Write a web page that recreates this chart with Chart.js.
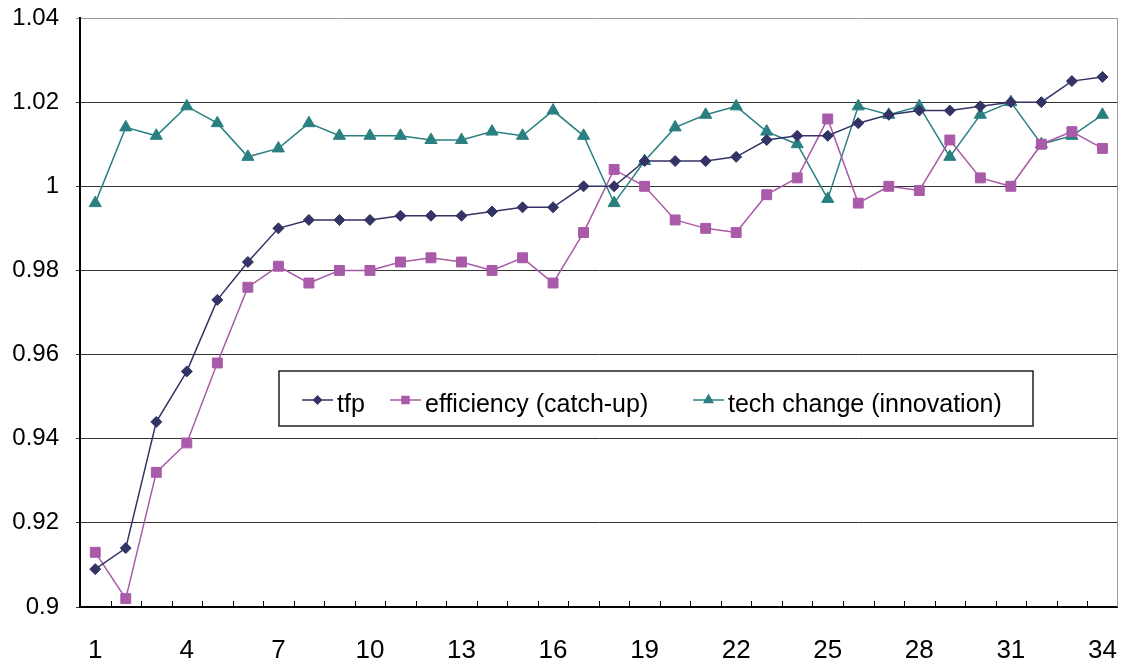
<!DOCTYPE html>
<html>
<head>
<meta charset="utf-8">
<title>tfp / efficiency / tech change</title>
<script src="https://cdn.jsdelivr.net/npm/chart.js@4.4.1/dist/chart.umd.min.js"></script>
<style>
  html, body { margin: 0; padding: 0; background: #fff; }
</style>
</head>
<body>
<canvas id="chart" width="1137" height="666"></canvas>
<script>
// Data
const periods = [1, 2, 3, 4, 5, 6, 7, 8, 9, 10, 11, 12, 13, 14, 15, 16, 17,
  18, 19, 20, 21, 22, 23, 24, 25, 26, 27, 28, 29, 30, 31, 32, 33, 34];

const tfp = [0.909, 0.914, 0.944, 0.956, 0.973, 0.982, 0.990, 0.992, 0.992, 0.992,
  0.993, 0.993, 0.993, 0.994, 0.995, 0.995, 1.000, 1.000, 1.006, 1.006,
  1.006, 1.007, 1.011, 1.012, 1.012, 1.015, 1.017, 1.018, 1.018, 1.019,
  1.020, 1.020, 1.025, 1.026];

const efficiency = [0.913, 0.902, 0.932, 0.939, 0.958, 0.976, 0.981, 0.977, 0.980, 0.980,
  0.982, 0.983, 0.982, 0.980, 0.983, 0.977, 0.989, 1.004, 1.000, 0.992,
  0.990, 0.989, 0.998, 1.002, 1.016, 0.996, 1.000, 0.999, 1.011, 1.002,
  1.000, 1.010, 1.013, 1.009];

const techChange = [0.996, 1.014, 1.012, 1.019, 1.015, 1.007, 1.009, 1.015, 1.012, 1.012,
  1.012, 1.011, 1.011, 1.013, 1.012, 1.018, 1.012, 0.996, 1.006, 1.014,
  1.017, 1.019, 1.013, 1.010, 0.997, 1.019, 1.017, 1.019, 1.007, 1.017,
  1.020, 1.010, 1.012, 1.017];

const seriesNames = ["tfp", "efficiency (catch-up)", "tech change (innovation)"];
const yTicks = [0.9, 0.92, 0.94, 0.96, 0.98, 1, 1.02, 1.04];
const xLabelEvery = 3;

// inward tick marks on the bottom axis + grey right border
const frameExtras = {
  id: "frameExtras",
  afterDraw(chart) {
    const ctx = chart.ctx;
    const area = chart.chartArea;
    const n = periods.length;
    const step = (area.right - area.left) / n;
    ctx.save();
    ctx.strokeStyle = "#000";
    ctx.lineWidth = 1;
    ctx.beginPath();
    for (let i = 1; i < n; i++) {
      const x = Math.round(area.left + i * step) + 0.5;
      ctx.moveTo(x, area.bottom);
      ctx.lineTo(x, area.bottom - 6);
    }
    ctx.stroke();
    ctx.strokeStyle = "#999";
    ctx.beginPath();
    ctx.moveTo(Math.round(area.right) - 0.5, area.top);
    ctx.lineTo(Math.round(area.right) - 0.5, area.bottom);
    ctx.stroke();
    ctx.restore();
  }
};

// legend drawn as a boxed row inside the plot
const boxLegend = {
  id: "boxLegend",
  afterDraw(chart) {
    const ctx = chart.ctx;
    const box = { left: 279, top: 371, right: 1033, bottom: 426 };
    const itemX = [302, 390, 693];
    const lineLen = 31;
    const lineY = 400;
    ctx.save();
    ctx.fillStyle = "#fff";
    ctx.fillRect(box.left, box.top, box.right - box.left, box.bottom - box.top);
    ctx.strokeStyle = "#222";
    ctx.lineWidth = 1.5;
    ctx.strokeRect(box.left, box.top, box.right - box.left, box.bottom - box.top);

    chart.data.datasets.forEach((ds, i) => {
      const x = itemX[i];
      ctx.strokeStyle = ds.borderColor;
      ctx.lineWidth = 1.5;
      ctx.beginPath();
      ctx.moveTo(x, lineY);
      ctx.lineTo(x + lineLen, lineY);
      ctx.stroke();
      ctx.fillStyle = ds.backgroundColor;
      ctx.strokeStyle = ds.borderColor;
      Chart.helpers.drawPoint(ctx, {
        pointStyle: ds.pointStyle,
        radius: ds.pointRadius * 0.7,
        rotation: 0,
        borderWidth: 1
      }, x + lineLen / 2, lineY);
      ctx.fillStyle = "#000";
      ctx.font = "25px 'Liberation Sans', Arial, sans-serif";
      ctx.textBaseline = "middle";
      ctx.fillText(ds.label, x + lineLen + 4, 405);
    });
    ctx.restore();
  }
};

const ctx = document.getElementById("chart").getContext("2d");

new Chart(ctx, {
  type: "line",
  data: {
    labels: periods,
    datasets: [
      {
        label: seriesNames[0],
        data: tfp,
        borderColor: "#333366",
        backgroundColor: "#333366",
        borderWidth: 1.5,
        pointStyle: "rectRot",
        pointRadius: 5.5,
        pointBorderWidth: 1
      },
      {
        label: seriesNames[1],
        data: efficiency,
        borderColor: "#A95AA9",
        backgroundColor: "#A95AA9",
        borderWidth: 1.5,
        pointStyle: "rect",
        pointRadius: 7,
        pointBorderWidth: 1
      },
      {
        label: seriesNames[2],
        data: techChange,
        borderColor: "#2A8080",
        backgroundColor: "#2A8080",
        borderWidth: 1.5,
        pointStyle: "triangle",
        pointRadius: 7,
        pointBorderWidth: 1
      }
    ]
  },
  options: {
    responsive: false,
    animation: false,
    layout: { padding: { top: 18, right: 6, left: 0, bottom: 0 } },
    plugins: {
      legend: { display: false },
      tooltip: { enabled: false }
    },
    scales: {
      x: {
        offset: true,
        grid: { display: false },
        border: { display: true, color: "#000", width: 2 },
        ticks: {
          autoSkip: false,
          maxRotation: 0,
          padding: 20,
          color: "#000",
          font: { family: "'Liberation Sans', Arial, sans-serif", size: 26 },
          callback: function (value, index) {
            return index % xLabelEvery === 0 ? this.getLabelForValue(value) : "";
          }
        },
        afterFit: (scale) => { scale.height = 59; }
      },
      y: {
        min: 0.9,
        max: 1.04,
        afterBuildTicks: (axis) => { axis.ticks = yTicks.map((v) => ({ value: v })); },
        grid: {
          color: (c) => (c.tick && c.tick.value >= 1.039 ? "#999" : "#333"),
          lineWidth: 1,
          drawTicks: true,
          tickLength: 4
        },
        border: { display: true, color: "#000", width: 2 },
        ticks: {
          padding: 17,
          color: "#000",
          font: { family: "'Liberation Sans', Arial, sans-serif", size: 24 },
          callback: (v) => String(Number(v.toFixed(2)))
        },
        afterFit: (scale) => {
          scale.width = 80;
          scale.paddingTop = 0;
          scale.paddingBottom = 0;
        }
      }
    }
  },
  plugins: [frameExtras, boxLegend]
});
</script>
</body>
</html>
